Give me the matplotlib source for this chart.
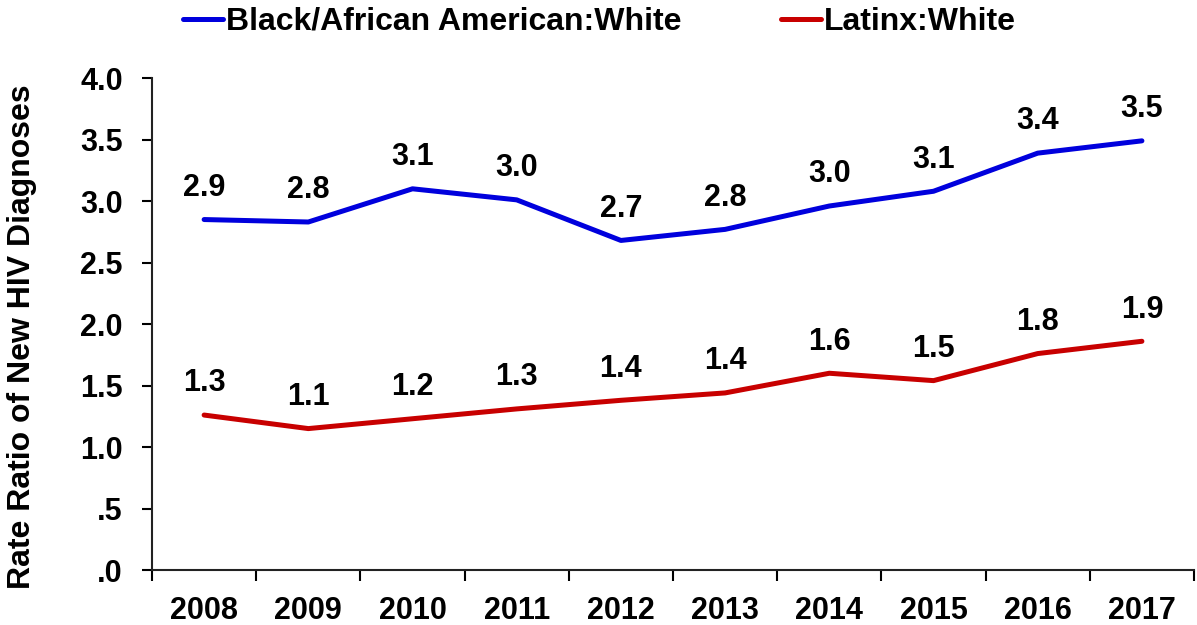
import matplotlib.pyplot as plt
import matplotlib.ticker as mticker

plt.rcParams["font.family"] = ["Liberation Sans", "DejaVu Sans"]
plt.rcParams["font.weight"] = "bold"

# ── Data ───────────────────────────────────────────────────────────────────
years = ["2008", "2009", "2010", "2011", "2012", "2013", "2014", "2015", "2016", "2017"]
black_white = [2.85, 2.83, 3.10, 3.01, 2.68, 2.77, 2.96, 3.08, 3.39, 3.49]
latinx_white = [1.26, 1.15, 1.23, 1.31, 1.38, 1.44, 1.60, 1.54, 1.76, 1.86]

BLUE = "#0000DD"
RED = "#C80000"
FS = 22

fig = plt.figure(figsize=(11.97, 6.25), dpi=100)
ax = fig.add_axes([0.127, 0.088, 0.8705, 0.787])

x = range(len(years))
ax.plot(x, black_white, color=BLUE, lw=3.6, solid_capstyle="round",
        label="Black/African American:White")
ax.plot(x, latinx_white, color=RED, lw=3.6, solid_capstyle="round",
        label="Latinx:White")

for series in (black_white, latinx_white):
    for i, v in enumerate(series):
        ax.annotate(f"{v:.1f}", (i, v), textcoords="offset points", xytext=(0, 12),
                    ha="center", va="bottom", fontsize=FS, fontweight="bold")

ax.set_xlim(-0.5, len(years) - 0.5)
ax.set_ylim(0, 4)

# x ticks sit between the categories, labels in the middle
ax.set_xticks([i - 0.5 for i in range(len(years) + 1)])
ax.xaxis.set_major_formatter(mticker.NullFormatter())
ax.set_xticks(list(x), minor=True)
ax.set_xticklabels(years, minor=True)
ax.tick_params(axis="x", which="minor", length=0, pad=19, labelsize=FS)
ax.tick_params(axis="x", which="major", length=8, width=1.5, direction="out")

ax.set_yticks([0, 0.5, 1, 1.5, 2, 2.5, 3, 3.5, 4])
ax.yaxis.set_major_formatter(
    mticker.FuncFormatter(lambda v, _: f"{v:.1f}".lstrip("0") if v < 1 else f"{v:.1f}"))
ax.tick_params(axis="y", length=7, width=1.5, direction="out", pad=14, labelsize=FS)

for side in ("top", "right"):
    ax.spines[side].set_visible(False)
for side in ("left", "bottom"):
    ax.spines[side].set_linewidth(1.5)
    ax.spines[side].set_color("#222222")

ax.set_ylabel("Rate Ratio of New HIV Diagnoses", fontsize=23, fontweight="bold")
ax.yaxis.set_label_coords(-0.11, 0.474)

fig.legend(loc="upper center", bbox_to_anchor=(0.501, 1.035), ncol=2, frameon=False,
           fontsize=23, handlelength=1.25, handletextpad=0.1, columnspacing=3.1)

fig.savefig("out.png", dpi=100)
